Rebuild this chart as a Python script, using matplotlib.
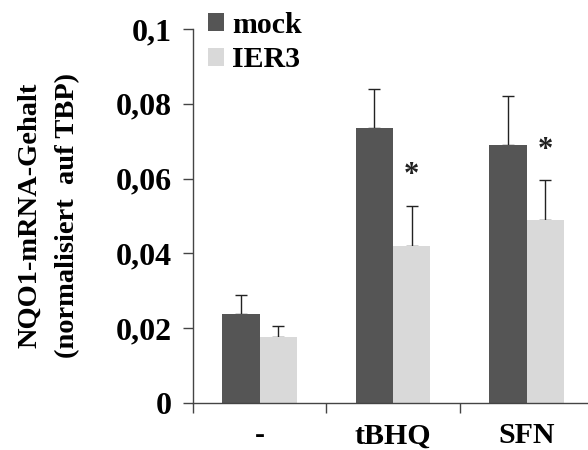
import numpy as np
import matplotlib.pyplot as plt
from matplotlib.ticker import FuncFormatter, FixedLocator

categories = ["-", "tBHQ", "SFN"]
series = ["mock", "IER3"]
mock_vals = [0.0238, 0.0736, 0.0690]
mock_err = [0.0052, 0.0104, 0.0131]
ier3_vals = [0.0177, 0.0420, 0.0490]
ier3_err = [0.0030, 0.0108, 0.0105]
significant = [False, True, True]  # star over IER3

COLORS = {"mock": "#555555", "IER3": "#d9d9d9"}

plt.rcParams["font.family"] = ["Liberation Serif", "DejaVu Serif"]
plt.rcParams["font.weight"] = "bold"

fig = plt.figure(figsize=(5.88, 4.5), dpi=100)
ax = fig.add_axes([0.328, 0.1044, 0.672, 0.8312])

bar_w = 0.28
x = np.arange(len(categories)) + 0.5
for j, (name, vals, errs) in enumerate([("mock", mock_vals, mock_err), ("IER3", ier3_vals, ier3_err)]):
    pos = x + (j - 0.5) * bar_w
    ax.bar(pos, vals, width=bar_w, color=COLORS[name], label=name, zorder=2)
    ax.errorbar(pos, vals, yerr=[np.zeros(len(vals)), errs], fmt="none",
                ecolor="#222222", elinewidth=1.0, capsize=4.5, capthick=1.0, zorder=1)

for i, sig in enumerate(significant):
    if sig:
        ax.text(x[i] + 0.5 * bar_w, ier3_vals[i] + ier3_err[i] + 0.008, "*",
                ha="center", va="center", fontsize=22, fontweight="bold", color="#222222")

ax.set_xlim(0, 2.96)
ax.set_ylim(0, 0.1)
ax.set_yticks([0, 0.02, 0.04, 0.06, 0.08, 0.1])
ax.yaxis.set_major_formatter(FuncFormatter(lambda v, p: ("%g" % round(v, 3)).replace(".", ",")))
ax.xaxis.set_major_locator(FixedLocator([0, 1, 2]))
ax.set_xticklabels([])
ax.set_xticks(x, minor=True)
ax.set_xticklabels(categories, minor=True)
ax.tick_params(axis="x", which="minor", length=0, pad=14, labelsize=21.5)
ax.tick_params(axis="x", which="major", length=7, width=1, direction="out", color="#444444")
ax.tick_params(axis="y", length=7, width=1, direction="out", pad=8, labelsize=23, color="#444444")

for s in ["top", "right"]:
    ax.spines[s].set_visible(False)
for s in ["left", "bottom"]:
    ax.spines[s].set_color("#444444")
    ax.spines[s].set_linewidth(1.0)

fig.text(0.050, 0.522, "NQO1-mRNA-Gehalt", rotation=90, ha="center", va="center",
         fontsize=20.5, fontweight="bold")
fig.text(0.115, 0.522, "(normalisiert  auf TBP)", rotation=90, ha="center", va="center",
         fontsize=20.5, fontweight="bold")

ax.legend(loc="upper left", bbox_to_anchor=(0.038, 1.046), frameon=False, fontsize=21.5,
          handlelength=0.55, handleheight=0.55, handletextpad=0.25, labelspacing=0.25,
          borderaxespad=0, borderpad=0)

fig.savefig("out.png", dpi=100)
plt.close(fig)
